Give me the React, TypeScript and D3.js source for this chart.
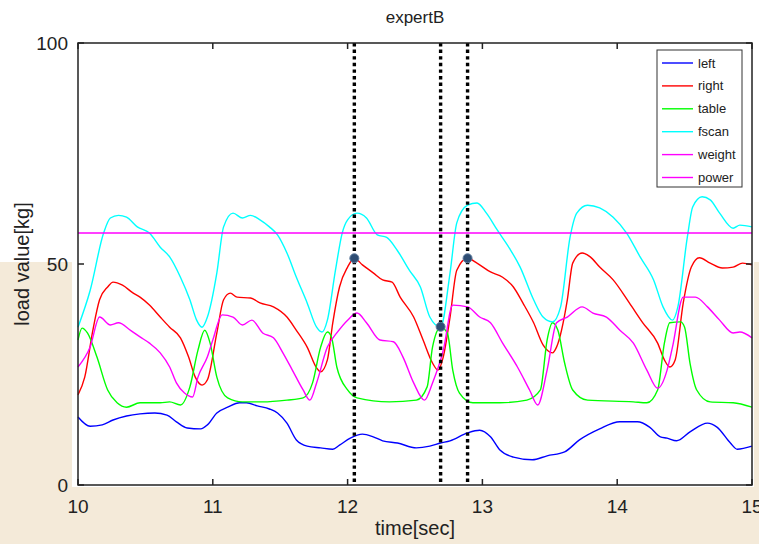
import * as d3 from "d3";

const W = 759;
const H = 544;

const xTicks = [10, 11, 12, 13, 14, 15];
const yTicks = [0, 50, 100];

const seriesNames = ["left", "right", "table", "fscan", "weight", "power"];
const seriesColors = ["#0000ff", "#ff0000", "#00ff00", "#00ffff", "#ff00ff", "#ff00ff"];

// [time, load]
const left: [number, number][] = [
  [10.0, 15.4], [10.09, 13.3], [10.18, 13.6], [10.26, 14.7], [10.36, 15.6], [10.46, 16.1],
  [10.57, 16.3], [10.66, 15.8], [10.73, 14.3], [10.81, 12.9], [10.91, 12.7], [10.96, 13.6],
  [11.03, 16.3], [11.11, 17.6], [11.2, 18.6], [11.25, 18.6], [11.33, 17.9], [11.42, 17.2],
  [11.48, 16.3], [11.55, 14], [11.62, 10.2], [11.7, 8.8], [11.8, 8.4], [11.89, 8.1],
  [11.94, 9], [12.02, 10.6], [12.11, 11.5], [12.19, 10.9], [12.26, 10], [12.37, 9.5],
  [12.51, 8.4], [12.61, 8.8], [12.69, 9.5], [12.76, 10], [12.89, 11.8], [12.98, 12.4],
  [13.06, 10.9], [13.13, 7.9], [13.23, 6.3], [13.37, 5.7], [13.48, 6.6], [13.61, 7.5],
  [13.72, 10.2], [13.87, 12.7], [14.02, 14.3], [14.15, 14.3], [14.24, 13.1], [14.32, 10.9],
  [14.37, 10.6], [14.44, 10], [14.54, 12], [14.67, 14], [14.74, 13.1], [14.84, 9.5],
  [14.89, 8.1], [15.0, 8.8],
];

const right: [number, number][] = [
  [10.0, 20.4], [10.05, 24.4], [10.11, 35], [10.16, 41.9], [10.22, 44.8], [10.26, 45.9],
  [10.33, 45.2], [10.41, 43.4], [10.46, 42.5], [10.53, 40.7], [10.61, 38], [10.68, 35.7],
  [10.76, 33.3], [10.82, 29], [10.87, 24.4], [10.92, 22.6], [10.96, 23.8], [11.03, 34.4],
  [11.08, 41.9], [11.13, 43.4], [11.18, 42.5], [11.28, 42.3], [11.35, 41.2], [11.45, 40.3],
  [11.55, 38], [11.62, 35], [11.7, 31.2], [11.77, 26.5], [11.8, 25.6], [11.85, 28.3],
  [11.89, 36.7], [11.94, 44.8], [12.0, 49.3], [12.05, 51.3], [12.11, 49.8], [12.19, 48],
  [12.26, 46.4], [12.33, 45.9], [12.39, 42.5], [12.49, 38], [12.56, 32.8], [12.63, 27.6],
  [12.67, 26], [12.71, 29], [12.76, 38], [12.81, 48.6], [12.89, 51.3], [12.96, 50.2],
  [13.06, 48.2], [13.15, 47], [13.23, 44.8], [13.3, 41.2], [13.38, 36.7], [13.45, 31.7],
  [13.52, 29.9], [13.55, 31.2], [13.63, 41.9], [13.67, 50.2], [13.74, 52.5], [13.8, 51.6],
  [13.87, 49.3], [13.97, 46.4], [14.09, 41.2], [14.19, 36.7], [14.3, 32.1], [14.35, 28.3],
  [14.39, 26.7], [14.43, 28.3], [14.49, 41.2], [14.55, 49.3], [14.61, 51.4], [14.69, 50.2],
  [14.78, 49.1], [14.86, 49.3], [14.93, 50.2], [15.0, 49.8],
];

const table: [number, number][] = [
  [10.0, 32.8], [10.03, 35.5], [10.07, 34.4], [10.14, 29], [10.22, 21.5], [10.29, 18.6],
  [10.36, 17.6], [10.46, 18.6], [10.61, 18.6], [10.68, 18.8], [10.76, 18.1], [10.83, 22.2],
  [10.89, 30.5], [10.94, 35], [10.98, 32.1], [11.03, 24.4], [11.11, 19.7], [11.22, 18.8],
  [11.37, 18.8], [11.55, 19.2], [11.67, 19.7], [11.74, 23.1], [11.8, 31.2], [11.85, 34.6],
  [11.88, 33.5], [11.92, 26.7], [12.0, 21.5], [12.07, 19.7], [12.31, 18.8], [12.51, 19.2],
  [12.59, 22.2], [12.63, 31.2], [12.69, 35.7], [12.74, 34.4], [12.78, 26], [12.83, 20.8],
  [12.93, 18.6], [13.13, 18.6], [13.33, 19.2], [13.43, 21.5], [13.48, 32.8], [13.52, 36.7],
  [13.56, 35], [13.61, 27.6], [13.67, 21.5], [13.78, 19.2], [14.12, 18.8], [14.22, 18.6],
  [14.3, 21.5], [14.35, 32.1], [14.39, 36.7], [14.47, 36.9], [14.5, 35.7], [14.54, 27.6],
  [14.59, 21.5], [14.69, 18.8], [14.86, 18.6], [15.0, 17.6],
];

const fscan: [number, number][] = [
  [10.0, 35.7], [10.09, 44], [10.19, 57], [10.24, 60.4], [10.3, 61], [10.36, 60.6],
  [10.44, 58.4], [10.53, 57], [10.61, 53.8], [10.68, 51.6], [10.76, 47], [10.83, 41.9],
  [10.88, 37.3], [10.92, 35.7], [10.96, 38], [11.03, 48], [11.08, 58.4], [11.15, 61.5],
  [11.22, 60.4], [11.28, 61], [11.35, 60], [11.42, 58.4], [11.48, 56.6], [11.55, 52.5],
  [11.62, 47], [11.7, 41.2], [11.77, 35.7], [11.81, 34.6], [11.85, 37.3], [11.91, 48.6],
  [11.96, 57], [12.0, 60], [12.07, 61.5], [12.14, 60.4], [12.22, 56.6], [12.29, 56],
  [12.37, 53], [12.46, 48.5], [12.54, 44.8], [12.61, 38], [12.69, 35.7], [12.76, 48],
  [12.81, 59.3], [12.89, 63.3], [12.96, 63.8], [13.03, 61.5], [13.11, 57.7], [13.2, 53.6],
  [13.28, 49.3], [13.38, 41.9], [13.45, 38], [13.52, 36.9], [13.58, 40.3], [13.65, 56],
  [13.7, 61.5], [13.78, 63.3], [13.87, 62.7], [13.97, 60.6], [14.07, 57], [14.17, 51.6],
  [14.27, 46.4], [14.34, 40.3], [14.41, 37.3], [14.45, 40.3], [14.52, 56], [14.56, 62.9],
  [14.63, 65.2], [14.69, 64.5], [14.76, 61.5], [14.86, 58.1], [14.91, 58.8], [15.0, 58.4],
];

const weight: [number, number][] = [
  [10.0, 26.7], [10.09, 31.2], [10.16, 38], [10.24, 36.2], [10.3, 36.7], [10.39, 35],
  [10.46, 33.5], [10.53, 32.1], [10.61, 29.9], [10.68, 26.7], [10.73, 23.1], [10.79, 20.8],
  [10.85, 19.9], [10.89, 24.4], [10.96, 29], [11.0, 32.8], [11.07, 38.5], [11.15, 38],
  [11.22, 36.2], [11.29, 37.3], [11.37, 34.4], [11.45, 33.3], [11.52, 29.9], [11.59, 26],
  [11.67, 21.5], [11.72, 19.2], [11.77, 23.1], [11.85, 31.2], [11.92, 34.4], [12.0, 37.3],
  [12.07, 38.9], [12.14, 36.7], [12.24, 32.8], [12.34, 32.4], [12.41, 29], [12.49, 23.1],
  [12.57, 19.2], [12.63, 23.1], [12.71, 30.5], [12.78, 40.7], [12.89, 40.3], [12.98, 38],
  [13.06, 36.7], [13.15, 32.1], [13.26, 26.7], [13.35, 21.5], [13.41, 18.1], [13.48, 26],
  [13.55, 36.7], [13.63, 38], [13.74, 40.3], [13.82, 38.9], [13.92, 38], [14.02, 35],
  [14.12, 32.1], [14.22, 26], [14.3, 21.9], [14.37, 26], [14.41, 31.2], [14.49, 42.5],
  [14.58, 42.5], [14.67, 40.3], [14.76, 37.3], [14.86, 34.4], [14.91, 34.6], [15.0, 33.3],
];

const power: [number, number][] = [[10, 57], [15, 57]];

const cursorTimes = [12.05, 12.69, 12.89];
const markerTimes = [12.05, 12.69, 12.89];
const markerValues = [51.3, 35.8, 51.3];

const allSeries = [left, right, table, fscan, weight, power];

const font = "'Liberation Sans', Arial, sans-serif";

export default function App() {
  const x = d3.scaleLinear().domain([10, 15]).range([78, 752]);
  const y = d3.scaleLinear().domain([0, 100]).range([485, 43]);
  const [x0, x1] = x.range();
  const [yb, yt] = y.range();

  const line = d3
    .line<[number, number]>()
    .x((d) => x(d[0]))
    .y((d) => y(d[1]))
    .curve(d3.curveMonotoneX);

  const legendX = 657;
  const legendY = 50;
  const rowH = 22.9;

  return (
    <svg
      width={W}
      height={H}
      style={{ position: "absolute", left: 0, top: 0, background: "#fff" }}
      fontFamily={font}
    >
      {/* page background behind the figure */}
      <rect x={0} y={262} width={W} height={H - 262} fill="#f4ead9" />
      <rect x={72} y={262} width={682} height={225} fill="#fff" />

      <text x={(x0 + x1) / 2} y={23} textAnchor="middle" fontSize={17} fill="#222">
        expertB
      </text>

      {/* series */}
      {allSeries.map((s, i) => (
        <path
          key={seriesNames[i]}
          d={line(s) ?? ""}
          fill="none"
          stroke={seriesColors[i]}
          strokeWidth={1.4}
        />
      ))}

      {/* cursors */}
      {cursorTimes.map((t) => (
        <line
          key={t}
          x1={x(t)}
          x2={x(t)}
          y1={yt}
          y2={yb}
          stroke="#000"
          strokeWidth={3.4}
          strokeDasharray="3.4 3.2"
        />
      ))}
      {markerTimes.map((t, i) => (
        <circle
          key={t}
          cx={x(t)}
          cy={y(markerValues[i])}
          r={4.5}
          fill="#2f4e74"
          stroke="#5d7a9c"
          strokeWidth={1}
        />
      ))}

      {/* axes box */}
      <rect
        x={x0}
        y={yt}
        width={x1 - x0}
        height={yb - yt}
        fill="none"
        stroke="#222"
        strokeWidth={1.5}
      />
      {xTicks.map((t) => (
        <g key={"x" + t}>
          <line x1={x(t)} x2={x(t)} y1={yb} y2={yb - 6} stroke="#222" strokeWidth={1.5} />
          <line x1={x(t)} x2={x(t)} y1={yt} y2={yt + 6} stroke="#222" strokeWidth={1.5} />
          <text x={x(t)} y={513} textAnchor="middle" fontSize={19} fill="#222">
            {t}
          </text>
        </g>
      ))}
      {yTicks.map((t) => (
        <g key={"y" + t}>
          <line x1={x0} x2={x0 + 6} y1={y(t)} y2={y(t)} stroke="#222" strokeWidth={1.5} />
          <line x1={x1} x2={x1 - 6} y1={y(t)} y2={y(t)} stroke="#222" strokeWidth={1.5} />
          <text x={68} y={y(t) + 7} textAnchor="end" fontSize={19} fill="#222">
            {t}
          </text>
        </g>
      ))}

      <text x={(x0 + x1) / 2} y={535} textAnchor="middle" fontSize={20} fill="#222">
        time[sec]
      </text>
      <text
        transform={`translate(29,${(yt + yb) / 2}) rotate(-90)`}
        textAnchor="middle"
        fontSize={20}
        fill="#222"
      >
        load value[kg]
      </text>

      {/* legend */}
      <rect
        x={legendX}
        y={legendY}
        width={85}
        height={137}
        fill="#fff"
        stroke="#333"
        strokeWidth={1}
      />
      {seriesNames.map((n, i) => (
        <g key={n} transform={`translate(${legendX},${legendY + 13 + i * rowH})`}>
          <line x1={5} x2={36} y1={0} y2={0} stroke={seriesColors[i]} strokeWidth={1.4} />
          <text x={41} y={4.5} fontSize={13} fill="#222">
            {n}
          </text>
        </g>
      ))}
    </svg>
  );
}
